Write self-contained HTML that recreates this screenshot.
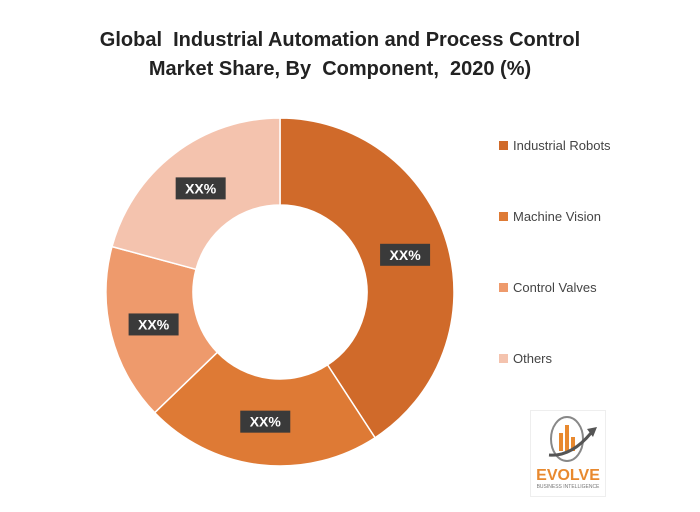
<!DOCTYPE html>
<html><head><meta charset="utf-8"><style>
body{margin:0;background:#fff;font-family:"Liberation Sans",sans-serif}
#wrap{position:relative;width:700px;height:512px;overflow:hidden}
.title{position:absolute;left:0;width:680px;text-align:center;font-weight:bold;font-size:20px;color:#222;top:26px;line-height:29px}
.leg{position:absolute;left:499px;font-size:13px;color:#444}
.leg span{display:inline-block;width:9px;height:9px;margin-right:5px}
</style></head><body>
<div id="wrap">
<div class="title">Global&nbsp; Industrial Automation and Process Control<br>Market Share, By&nbsp; Component,&nbsp; 2020 (%)</div>
<svg id="svg" width="700" height="512" style="position:absolute;left:0;top:0"></svg>
<div id="legend"></div>
<div style="position:absolute;left:530px;top:410px;width:74px;height:85px;border:1px solid #eee;text-align:center">
<svg width="74" height="52"><ellipse cx="36" cy="28" rx="16" ry="22" fill="none" stroke="#888" stroke-width="2"/><rect x="28" y="22" width="4" height="18" fill="#e8892f"/><rect x="34" y="14" width="4" height="26" fill="#e8892f"/><rect x="40" y="26" width="4" height="14" fill="#e8892f"/><path d="M18 44 Q40 46 60 22" stroke="#555" stroke-width="3" fill="none"/><polygon points="56,18 66,16 62,26" fill="#555"/></svg>
<div style="font-weight:bold;font-size:16px;color:#e8892f;line-height:16px">EVOLVE</div>
<div style="font-size:5px;color:#777">BUSINESS INTELLIGENCE</div>
</div>
</div>
<script>
const categories=["Industrial Robots","Machine Vision","Control Valves","Others"];
const shares=[40.8,22.0,16.4,20.8];
const labels=["XX%","XX%","XX%","XX%"];
const colors=["#D06A2A","#DE7A35","#EE9A6C","#F4C3AE"];
const cx=280,cy=292,R=174,r=87;
const svg=document.getElementById('svg');const NS="http://www.w3.org/2000/svg";
const total=shares.reduce((a,b)=>a+b,0);
function pt(a,rad){return [cx+rad*Math.sin(a),cy-rad*Math.cos(a)];}
let a0=0;
shares.forEach((v,i)=>{
 const a1=a0+v/total*2*Math.PI;const lg=(a1-a0)>Math.PI?1:0;
 const p1=pt(a0,R),p2=pt(a1,R),p3=pt(a1,r),p4=pt(a0,r);
 const p=document.createElementNS(NS,'path');
 p.setAttribute('d',`M${p1}A${R},${R} 0 ${lg} 1 ${p2}L${p3}A${r},${r} 0 ${lg} 0 ${p4}Z`);
 p.setAttribute('fill',colors[i]);p.setAttribute('stroke','#fff');p.setAttribute('stroke-width','1.5');
 
 
 svg.appendChild(p);
 const m=(a0+a1)/2,lp=pt(m,(R+r)/2);
 const g=document.createElementNS(NS,'g');
 
 
 g.innerHTML=`<rect x="${lp[0]-25}" y="${lp[1]-11}" width="50" height="22" fill="#3a3a3a"/><text x="${lp[0]}" y="${lp[1]+5}" text-anchor="middle" fill="#fff" font-weight="bold" font-size="14" font-family="Liberation Sans">${labels[i]}</text>`;
 svg.appendChild(g);
 a0=a1;
});
const lg=document.getElementById('legend');
categories.forEach((c,i)=>{
 const d=document.createElement('div');d.className='leg';d.style.top=(138+i*71)+'px';
 
 
 d.innerHTML=`<span style="background:${colors[i]}"></span>${c}`;lg.appendChild(d);
});
</script>
</body></html>
